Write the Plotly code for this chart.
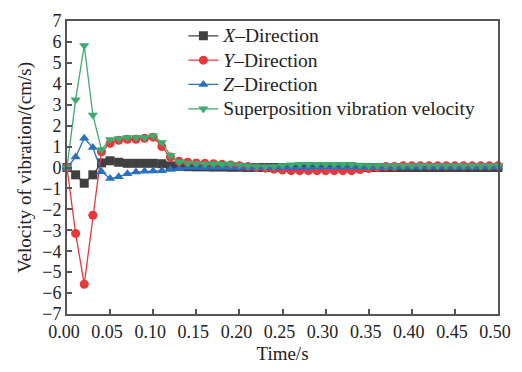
import plotly.graph_objects as go

t = [round(i * 0.01, 2) for i in range(51)]

x_dir = [0, -0.35, -0.75, -0.35, 0.22, 0.32, 0.25, 0.2, 0.2, 0.2, 0.2, 0.18, 0.08, 0.05, 0.04,
         0.03, 0.03, 0.02, 0.02, 0.01, 0.01, 0.0, 0.0, 0.0, 0.0, 0.0, 0.0, 0.0, 0.0, 0.0,
         0.0, 0.0, 0.0, 0.0, 0.0, 0.0, 0.0, 0.0, 0.0, 0.0, 0.0, 0.0, 0.0, 0.0, 0.0,
         0.0, 0.0, 0.0, 0.0, 0.0, 0.0]
y_dir = [0, -3.15, -5.58, -2.28, 0.75, 1.15, 1.3, 1.35, 1.35, 1.4, 1.45, 1.0, 0.5, 0.3, 0.25,
         0.22, 0.2, 0.18, 0.15, 0.12, 0.08, 0.05, 0.0, -0.03, -0.08, -0.12, -0.15, -0.15, -0.15, -0.15,
         -0.15, -0.15, -0.15, -0.15, -0.1, -0.05, 0.0, 0.05, 0.05, 0.08, 0.08, 0.08, 0.08, 0.08, 0.08,
         0.08, 0.08, 0.08, 0.08, 0.08, 0.08]
z_dir = [0, 0.5, 1.4, 0.95, -0.2, -0.53, -0.44, -0.3, -0.22, -0.18, -0.17, -0.15, -0.1, -0.05, 0.0,
         0.0, 0.0, 0.0, 0.0, 0.0, 0.0, 0.0, 0.0, 0.0, 0.0, 0.0, 0.0, 0.0, 0.0, 0.02,
         0.02, 0.02, 0.02, 0.02, 0.02, 0.02, 0.02, 0.02, 0.02, 0.02, 0.02, 0.02, 0.02, 0.02, 0.02,
         0.02, 0.02, 0.02, 0.02, 0.02, 0.02]
sup = [0, 3.24, 5.83, 2.51, 0.85, 1.34, 1.38, 1.43, 1.43, 1.43, 1.52, 1.2, 0.58, 0.27, 0.22,
       0.2, 0.18, 0.18, 0.17, 0.15, 0.12, 0.08, 0.05, 0.04, 0.05, 0.1, 0.13, 0.15, 0.15, 0.15,
       0.15, 0.15, 0.15, 0.15, 0.12, 0.1, 0.1, 0.1, 0.1, 0.1, 0.1, 0.1, 0.1, 0.1, 0.1,
       0.1, 0.1, 0.1, 0.1, 0.1, 0.1]

x_tickvals = [0.0, 0.05, 0.10, 0.15, 0.20, 0.25, 0.30, 0.35, 0.40, 0.45, 0.50]
x_ticktext = ["0.00", "0.05", "0.10", "0.15", "0.20", "0.25", "0.30", "0.35", "0.40", "0.45", "0.50"]

names = ["<i>X</i>–Direction", "<i>Y</i>–Direction", "<i>Z</i>–Direction",
         "Superposition vibration velocity"]
colors = ["#404040", "#e8383d", "#2a6fc0", "#3daa6e"]
symbols = ["square", "circle", "triangle-up", "triangle-down"]
series = [x_dir, y_dir, z_dir, sup]

fig = go.Figure()
for name, col, sym, vals in zip(names, colors, symbols, series):
    fig.add_trace(go.Scatter(
        x=t, y=vals, name='<span style="font-size:19.5px">' + name + '</span>',
        mode="lines+markers",
        line=dict(color=col, width=1.3),
        marker=dict(symbol=sym, size=9, color=col),
        cliponaxis=False,
    ))

fam = "Liberation Serif, Times New Roman, serif"
tickfont = dict(family=fam, size=18, color="#222")
titlefont = dict(family=fam, size=19, color="#222")
axis_common = dict(showline=True, linecolor="#555", linewidth=2, mirror=True,
                   ticks="inside", ticklen=5, tickwidth=1.5, tickcolor="#555",
                   showgrid=False, zeroline=False, tickfont=tickfont,
                   ticklabeloverflow="allow")

fig.update_layout(
    width=522, height=372,
    margin=dict(l=67, r=11, t=12, b=53),
    paper_bgcolor="white", plot_bgcolor="white",
    font=titlefont,
    showlegend=True,
    legend=dict(x=0.27, y=1.008, xanchor="left", yanchor="top",
                bgcolor="rgba(0,0,0,0)", font=dict(family=fam, size=16.4, color="#222"),
                tracegroupgap=0, itemsizing="trace"),
    xaxis=dict(range=[0, 0.5], tickvals=x_tickvals, ticktext=x_ticktext, ticklabelshift=-3,
               title=dict(text="Time/s", font=titlefont, standoff=6), **axis_common),
    yaxis=dict(range=[-7, 7], dtick=1,
               title=dict(text="Velocity of vibration/(cm/s)", font=titlefont, standoff=6), **axis_common),
)

fig.write_html("out.html")
